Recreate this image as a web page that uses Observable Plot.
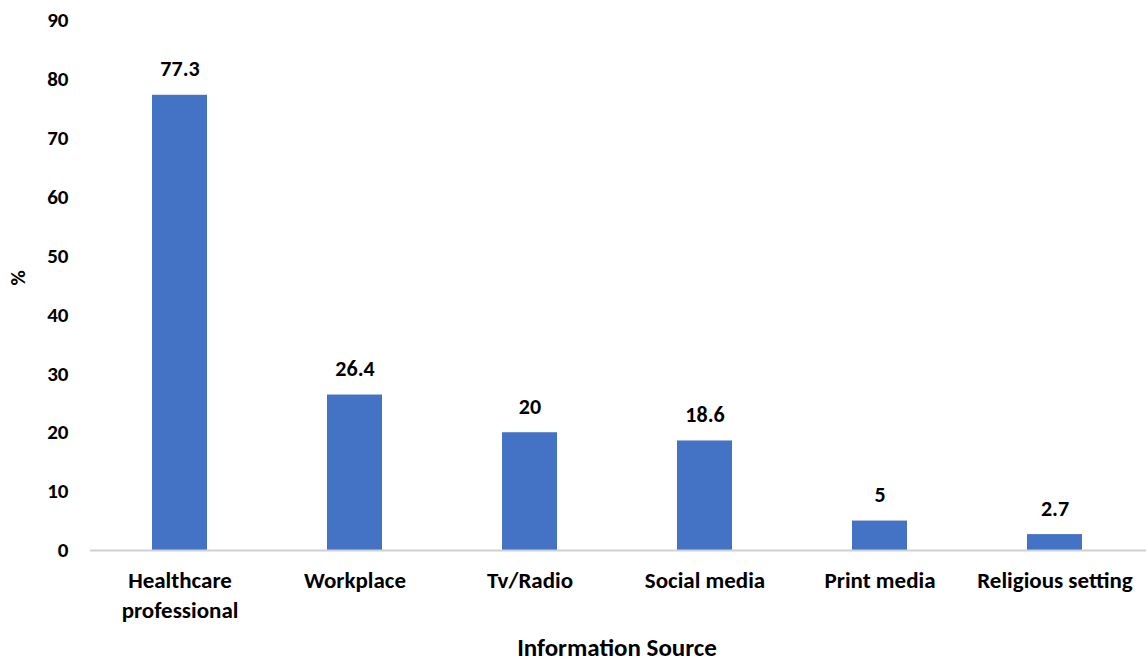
<!DOCTYPE html>
<html>
<head>
<meta charset="utf-8">
<script src="https://cdn.jsdelivr.net/npm/d3@7"></script>
<script src="https://cdn.jsdelivr.net/npm/@observablehq/plot@0.6"></script>
<style>
  html, body { margin: 0; padding: 0; background: #fff; }
  #chart svg { font-family: Carlito, Lato, "Liberation Sans", sans-serif; }
</style>
</head>
<body>
<div id="chart"></div>
<script>
const categories = ["Healthcare professional", "Workplace", "Tv/Radio", "Social media", "Print media", "Religious setting"];
const tickLabels = ["Healthcare\nprofessional", "Workplace", "Tv/Radio", "Social media", "Print media", "Religious setting"];
const values = [77.3, 26.4, 20, 18.6, 5, 2.7];
const yTicks = [0, 10, 20, 30, 40, 50, 60, 70, 80, 90];

const data = categories.map((c, i) => ({category: c, value: values[i]}));

const chart = Plot.plot({
  width: 1146,
  height: 662,
  marginLeft: 90,
  marginRight: 3,
  marginTop: 20,
  marginBottom: 112,
  style: {fontSize: "20px", fontWeight: "bold", color: "#000", background: "#fff"},
  x: {domain: categories, paddingInner: 0.687, paddingOuter: 0.3435, label: null},
  y: {domain: [0, 90], label: null},
  marks: [
    Plot.axisY({ticks: yTicks, tickSize: 0, tickPadding: 22, fontSize: 21, fontWeight: "bold", label: null}),
    Plot.text(["%"], {frameAnchor: "left", dx: -72, rotate: -90, fontSize: 21, fontWeight: "bold", fill: "#000"}),
    Plot.axisX({tickSize: 0, tickPadding: 16, fontSize: 23, fontWeight: "bold", label: null,
      tickFormat: d => tickLabels[categories.indexOf(d)], lineWidth: 100, lineHeight: 1.3, textAnchor: "middle"}),
    Plot.text(["Information Source"], {frameAnchor: "bottom", dy: 97, lineAnchor: "middle", fontSize: 25, fontWeight: "bold", fill: "#000"}),
    Plot.barY(data, {x: "category", y: "value", fill: "#4472C4"}),
    Plot.ruleY([0], {stroke: "#d0d0d0", strokeWidth: 2, insetRight: -3}),
    Plot.text(data, {x: "category", y: "value", text: d => String(d.value), dy: -26, fontSize: 22, fontWeight: "bold", fill: "#000"})
  ]
});
document.getElementById("chart").appendChild(chart);
</script>
</body>
</html>
